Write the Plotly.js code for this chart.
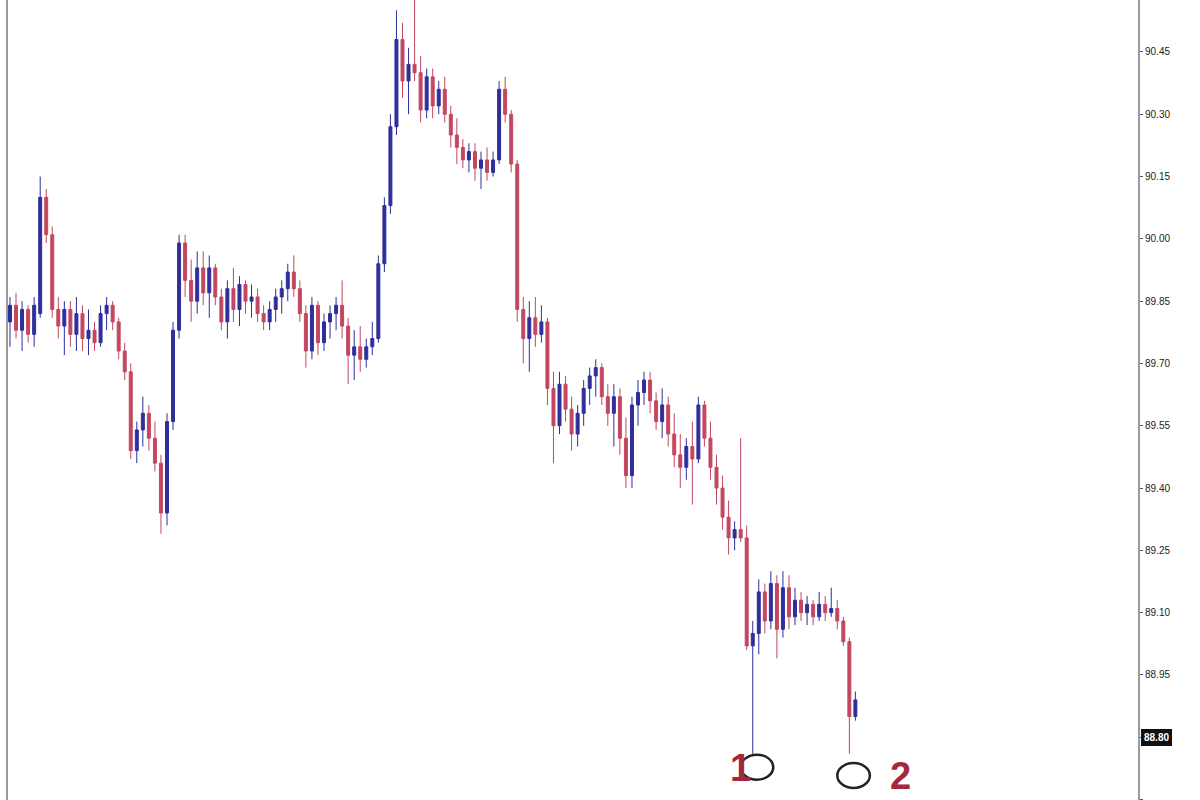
<!DOCTYPE html>
<html>
<head>
<meta charset="utf-8">
<script src="https://cdn.plot.ly/plotly-3.0.1.min.js"></script>
<style>html,body{margin:0;padding:0;background:#fff;}#chart{width:1200px;height:800px;}</style>
</head>
<body>
<div id="chart"></div>
<script>
var opens = [89.80,89.84,89.78,89.83,89.77,89.82,90.10,90.01,89.83,89.79,89.83,89.77,89.82,89.76,89.78,89.75,89.82,89.84,89.80,89.73,
89.68,89.49,89.54,89.58,89.52,89.46,89.34,89.56,89.78,89.99,89.90,89.85,89.93,89.87,89.93,89.86,89.80,89.88,89.83,89.89,
89.85,89.86,89.82,89.80,89.83,89.86,89.88,89.92,89.88,89.82,89.73,89.84,89.75,89.80,89.82,89.84,89.79,89.72,89.74,89.71,
89.74,89.76,89.94,90.08,90.27,90.48,90.38,90.42,90.40,90.31,90.39,90.32,90.36,90.30,90.25,90.22,90.19,90.21,90.17,90.19,
90.16,90.19,90.36,90.30,90.18,89.83,89.76,89.81,89.77,89.80,89.64,89.55,89.65,89.59,89.53,89.58,89.64,89.67,89.69,89.62,
89.58,89.62,89.52,89.43,89.60,89.63,89.66,89.61,89.56,89.60,89.53,89.48,89.45,89.50,89.47,89.60,89.52,89.45,89.40,89.33,
89.28,89.30,89.28,89.02,89.05,89.15,89.08,89.17,89.06,89.16,89.09,89.13,89.10,89.12,89.09,89.12,89.10,89.11,89.08,89.03,88.85];
var highs = [89.86,89.87,89.85,89.84,89.86,90.15,90.12,90.03,89.86,89.85,89.85,89.86,89.84,89.83,89.80,89.84,89.86,89.85,89.81,89.75,
89.70,89.56,89.62,89.60,89.56,89.48,89.58,89.80,90.01,90.01,89.95,89.97,89.97,89.96,89.94,89.88,89.90,89.93,89.91,89.90,
89.89,89.88,89.84,89.85,89.88,89.90,89.94,89.96,89.90,89.84,89.86,89.85,89.82,89.84,89.86,89.90,89.81,89.78,89.79,89.76,
89.80,89.96,90.10,90.30,90.55,90.52,90.46,90.58,90.44,90.41,90.41,90.38,90.39,90.32,90.29,90.24,90.23,90.23,90.21,90.22,
90.21,90.38,90.39,90.31,90.19,89.86,89.85,89.86,89.84,89.81,89.68,89.68,89.67,89.62,89.60,89.66,89.69,89.71,89.70,89.65,
89.65,89.64,89.57,89.62,89.66,89.68,89.68,89.63,89.64,89.62,89.58,89.53,89.52,89.56,89.62,89.61,89.56,89.48,89.43,89.37,
89.32,89.52,89.31,89.08,89.18,89.17,89.20,89.19,89.20,89.19,89.16,89.15,89.14,89.13,89.15,89.14,89.16,89.13,89.09,89.04,88.91];
var lows = [89.74,89.76,89.73,89.75,89.74,89.81,89.99,89.81,89.76,89.72,89.74,89.73,89.73,89.72,89.73,89.74,89.78,89.78,89.71,89.66,
89.47,89.46,89.50,89.49,89.44,89.29,89.31,89.54,89.76,89.86,89.80,89.82,89.84,89.81,89.84,89.78,89.76,89.80,89.79,89.82,
89.81,89.80,89.78,89.78,89.80,89.82,89.85,89.86,89.80,89.69,89.71,89.72,89.73,89.76,89.78,89.76,89.65,89.66,89.68,89.69,
89.72,89.75,89.92,90.06,90.25,90.34,90.30,90.38,90.28,90.29,90.29,90.30,90.28,90.22,90.18,90.17,90.16,90.14,90.12,90.14,
90.15,90.18,90.28,90.16,89.80,89.70,89.68,89.74,89.75,89.60,89.46,89.53,89.56,89.49,89.50,89.55,89.60,89.62,89.60,89.55,
89.50,89.48,89.40,89.40,89.55,89.60,89.58,89.54,89.52,89.50,89.45,89.40,89.42,89.36,89.46,89.50,89.42,89.36,89.30,89.24,
89.25,89.27,89.01,88.76,89.00,89.05,89.06,88.99,89.04,89.06,89.07,89.08,89.07,89.07,89.08,89.08,89.09,89.06,89.02,88.76,88.84];
var closes = [89.84,89.78,89.83,89.77,89.84,90.10,90.01,89.83,89.79,89.83,89.77,89.82,89.76,89.78,89.75,89.82,89.84,89.80,89.73,89.68,
89.49,89.54,89.58,89.52,89.46,89.34,89.56,89.78,89.99,89.90,89.85,89.93,89.87,89.93,89.86,89.80,89.88,89.83,89.89,89.85,
89.86,89.82,89.80,89.83,89.86,89.88,89.92,89.88,89.82,89.73,89.84,89.75,89.80,89.82,89.84,89.79,89.72,89.74,89.71,89.74,
89.76,89.94,90.08,90.27,90.48,90.38,90.42,90.40,90.31,90.39,90.32,90.36,90.30,90.25,90.22,90.19,90.21,90.17,90.19,90.16,
90.19,90.36,90.30,90.18,89.83,89.76,89.81,89.77,89.80,89.64,89.55,89.65,89.59,89.53,89.58,89.64,89.67,89.69,89.62,89.58,
89.62,89.52,89.43,89.60,89.63,89.66,89.61,89.56,89.60,89.53,89.48,89.45,89.50,89.47,89.60,89.52,89.45,89.40,89.33,89.28,
89.30,89.28,89.02,89.05,89.15,89.08,89.17,89.06,89.16,89.09,89.13,89.10,89.12,89.09,89.12,89.10,89.11,89.08,89.03,88.85,88.89];
var tickVals = [88.65,88.80,88.95,89.10,89.25,89.40,89.55,89.70,89.85,90.00,90.15,90.30,90.45,90.60];
var tickText = ["88.65","","88.95","89.10","89.25","89.40","89.55","89.70","89.85","90.00","90.15","90.30","90.45","90.60"];
var currentLabel = {value: 88.80, text: "88.80"};
var markers = [{label: "1", bar: 123}, {label: "2", bar: 139}];

var idx = closes.map(function(_, i){ return i; });

var trace = {
  type: 'candlestick',
  x: idx, open: opens, high: highs, low: lows, close: closes,
  increasing: {line: {color: '#2e2e9c', width: 1}, fillcolor: '#2e2e9c'},
  decreasing: {line: {color: '#c2475f', width: 1}, fillcolor: '#c2475f'},
  whiskerwidth: 0, hoverinfo: 'none'
};

var shapes = [];
var annotations = [];
markers.forEach(function(m, k){
  var xi = idx[m.bar];
  var lo = lows[m.bar];
  shapes.push({type: 'circle', xref: 'x', yref: 'y',
    x0: xi + 0.7 - 2.7, x1: xi + 0.7 + 2.7, y0: lo - 0.062 - k*0.02, y1: lo - 0.002 - k*0.02,
    line: {color: '#222', width: 2.5}});
  annotations.push({xref: 'x', yref: 'y', x: k === 0 ? xi - 2.0 : xi + 8.5,
    y: lo - 0.033 - k*0.02, text: '<b>' + m.label + '</b>', showarrow: false,
    font: {family: 'Liberation Sans, Arial, sans-serif', size: 38, color: '#a3283f'}});
});
annotations.push({xref: 'paper', yref: 'y', x: 1, y: currentLabel.value, xanchor: 'left', xshift: 3,
  text: '<b>' + currentLabel.text + '</b>', showarrow: false, bgcolor: '#111', bordercolor: '#111',
  borderpad: 2, font: {family: 'Liberation Sans, Arial, sans-serif', size: 10, color: '#fff'}});

var layout = {
  width: 1200, height: 800,
  margin: {l: 8, r: 62, t: 0, b: 0},
  paper_bgcolor: '#fff', plot_bgcolor: '#fff',
  showlegend: false,
  xaxis: {range: [-0.33, 186.8], showgrid: false, zeroline: false, showticklabels: false,
    ticks: '', rangeslider: {visible: false}, showline: false},
  yaxis: {side: 'right', range: [88.649, 90.575], tickvals: tickVals, ticktext: tickText,
    showgrid: false, zeroline: false, showline: true, mirror: true, linecolor: '#9a9a9a', linewidth: 2,
    ticks: 'outside', ticklen: 3, tickcolor: '#555',
    tickfont: {family: 'Liberation Sans, Arial, sans-serif', size: 10, color: '#222'}},
  shapes: shapes,
  annotations: annotations
};

Plotly.newPlot('chart', [trace], layout, {staticPlot: true, displayModeBar: false});
</script>
</body>
</html>
